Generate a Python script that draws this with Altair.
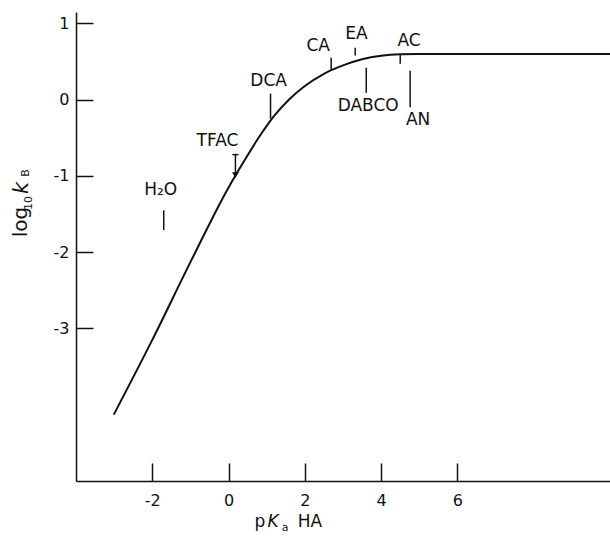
import altair as alt
import pandas as pd

# ---- data ----
curve_x = [-3.01, -2.0, -1.0, 0.0, 0.4, 0.8, 1.2, 1.6, 2.0, 2.5, 3.0, 3.5, 4.0, 4.5, 5.0, 10.0]
curve_y = [-4.13, -3.15, -2.13, -1.15, -0.81, -0.49, -0.21, 0.01, 0.18, 0.34, 0.45, 0.53, 0.575, 0.595, 0.60, 0.60]

names = ["H₂O", "TFAC", "DCA", "CA", "EA", "DABCO", "AC", "AN"]
tick_x = [-1.70, 0.18, 1.10, 2.69, 3.32, 3.61, 4.50, 4.76]
tick_top = [-1.45, -0.72, 0.08, 0.55, 0.68, 0.42, 0.60, 0.38]
tick_bottom = [-1.71, -0.97, -0.25, 0.38, 0.58, 0.09, 0.47, -0.10]
label_x = [-1.78, -0.29, 1.05, 2.35, 3.35, 3.66, 4.73, 4.97]
label_y = [-1.19, -0.54, 0.25, 0.71, 0.86, -0.08, 0.77, -0.27]

tfac_bar_x = [0.10, 0.26]
tfac_bar_y = [-0.72, -0.72]
arrow_x = [0.18]
arrow_y = [-0.99]

x_ticks = [-2, 0, 2, 4, 6]
y_ticks = [1, 0, -1, -2, -3]
X_DOMAIN = [-4, 10]
Y_DOMAIN = [-5, 1.15]

W, H = 534, 469
FONT = "DejaVu Sans"
INK = "#111111"

curve_df = pd.DataFrame({"x": curve_x, "y": curve_y})
marker_df = pd.DataFrame({"name": names, "x": tick_x, "y1": tick_top, "y2": tick_bottom})
label_df = pd.DataFrame({"name": names, "x": label_x, "y": label_y})
bar_df = pd.DataFrame({"x": [tfac_bar_x[0]], "x2": [tfac_bar_x[1]], "y": [tfac_bar_y[0]]})
arrow_df = pd.DataFrame({"x": arrow_x, "y": arrow_y})
one = pd.DataFrame({"a": [0]})

xs = alt.Scale(domain=X_DOMAIN, nice=False, zero=False)
ys = alt.Scale(domain=Y_DOMAIN, nice=False, zero=False)

label_expr = "datum.value < 0 ? '-' + format(-datum.value, 'd') : format(datum.value, 'd')"

axis_x_lab = alt.Axis(values=x_ticks, tickSize=0, labelPadding=11, labelFontSize=16,
                      labelFont=FONT, labelColor=INK, domainColor=INK, domainWidth=1.5,
                      grid=False, title=None, labelExpr=label_expr, labelFlush=False)
axis_y_lab = alt.Axis(values=y_ticks, tickSize=0, labelPadding=7, labelFontSize=16,
                      labelFont=FONT, labelColor=INK, domainColor=INK, domainWidth=1.5,
                      grid=False, title=None, labelExpr=label_expr, orient="left",
                      labelFlush=False)
axis_x_ticks = alt.Axis(orient="top", offset=-H, values=x_ticks, tickSize=18, tickWidth=1.5,
                        tickColor=INK, labels=False, domain=False, grid=False, title=None)
axis_y_ticks = alt.Axis(orient="right", offset=-W, values=y_ticks, tickSize=17, tickWidth=1.5,
                        tickColor=INK, labels=False, domain=False, grid=False, title=None)

curve = alt.Chart(curve_df).mark_line(color=INK, strokeWidth=2, interpolate="monotone").encode(
    x=alt.X("x:Q", scale=xs, axis=axis_x_lab),
    y=alt.Y("y:Q", scale=ys, axis=axis_y_lab),
)

rules = alt.Chart(marker_df).mark_rule(color=INK, strokeWidth=1.5).encode(
    x=alt.X("x:Q", scale=xs, axis=axis_x_ticks),
    y=alt.Y("y1:Q", scale=ys, axis=axis_y_ticks),
    y2="y2:Q",
)

bar = alt.Chart(bar_df).mark_rule(color=INK, strokeWidth=1.5).encode(
    x=alt.X("x:Q", scale=xs, axis=None), x2="x2:Q",
    y=alt.Y("y:Q", scale=ys, axis=None),
)

arrow = alt.Chart(arrow_df).mark_point(shape="triangle-down", filled=True, color=INK,
                                       size=45, opacity=1).encode(
    x=alt.X("x:Q", scale=xs, axis=None),
    y=alt.Y("y:Q", scale=ys, axis=None),
)

labels = alt.Chart(label_df).mark_text(font=FONT, fontSize=17, color=INK, align="center",
                                       baseline="middle").encode(
    x=alt.X("x:Q", scale=xs, axis=None),
    y=alt.Y("y:Q", scale=ys, axis=None),
    text="name:N",
)


def piece(txt, px, py, size, italic=False, angle=0):
    kw = dict(text=txt, font=FONT, fontSize=size, color=INK, align="center",
              baseline="alphabetic")
    if italic:
        kw["fontStyle"] = "italic"
    if angle:
        kw["angle"] = angle
    return alt.Chart(one).mark_text(**kw).encode(x=alt.value(px), y=alt.value(py))


# y-axis title: log10 kB (rotated)
ytitle = [
    piece("log", -49, 210, 20, angle=270),
    piece("10", -44, 191, 11, angle=270),
    piece("k", -48, 176, 21, italic=True, angle=270),
    piece("B", -47, 161, 11, angle=270),
]
# x-axis title: pKa HA
xtitle = [
    piece("p", 184, 515, 17),
    piece("K", 197, 515, 17, italic=True),
    piece("a", 209, 519, 11),
    piece("HA", 234, 515, 17),
]

chart = alt.layer(curve, rules, bar, arrow, labels, *ytitle, *xtitle).resolve_axis(
    x="independent", y="independent"
).properties(
    width=W, height=H,
    autosize=alt.AutoSizeParams(type="none"),
    padding={"left": 76, "top": 12, "right": 0, "bottom": 56},
    background="white",
).configure_view(stroke=None)

chart.save("out.html", embed_options={"renderer": "svg", "actions": False})
